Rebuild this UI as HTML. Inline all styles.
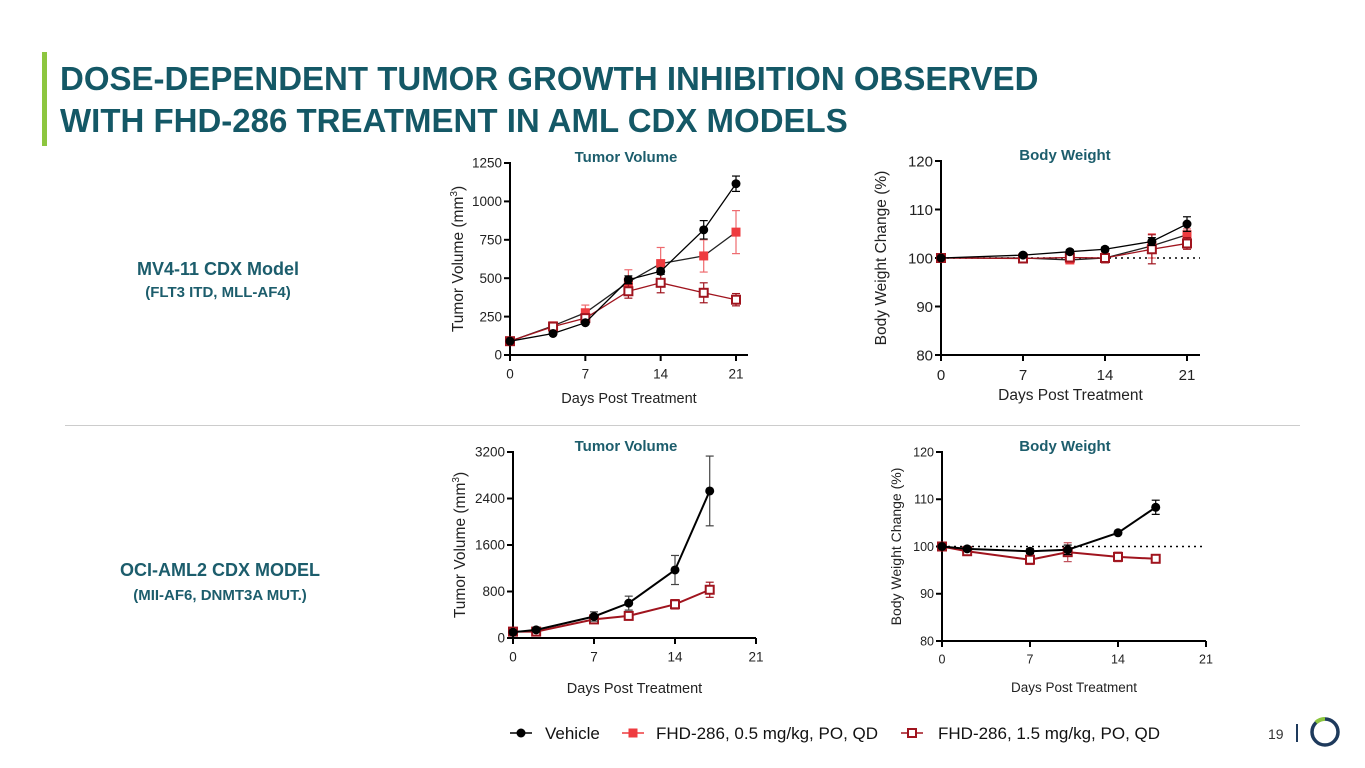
<!DOCTYPE html>
<html><head><meta charset="utf-8">
<style>
body{margin:0;width:1365px;height:768px;background:#fff;overflow:hidden;font-family:"Liberation Sans",sans-serif;position:relative}
.t{position:absolute;color:#1c5d6c;font-weight:bold}
</style></head><body>
<div style="position:absolute;left:42px;top:52px;width:5px;height:94px;background:#8dc63f"></div>
<div class="t" style="left:60px;top:58px;font-size:33px;line-height:42px;color:#145866;white-space:nowrap">DOSE-DEPENDENT TUMOR GROWTH INHIBITION OBSERVED<br>WITH FHD-286 TREATMENT IN AML CDX MODELS</div>
<div class="t" style="left:88px;width:260px;text-align:center;top:259px;font-size:18px">MV4-11 CDX Model</div>
<div class="t" style="left:88px;width:260px;text-align:center;top:284px;font-size:15px">(FLT3 ITD, MLL-AF4)</div>
<div class="t" style="left:90px;width:260px;text-align:center;top:560px;font-size:18px">OCI-AML2 CDX MODEL</div>
<div class="t" style="left:90px;width:260px;text-align:center;top:587px;font-size:15px">(MII-AF6, DNMT3A MUT.)</div>
<div style="position:absolute;left:65px;top:425px;width:1235px;height:1px;background:#ccc"></div>
<svg id="svg" width="1365" height="768" style="position:absolute;left:0;top:0"></svg>
<div style="position:absolute;left:1268px;top:726px;font-size:14px;color:#333">19</div>
<div style="position:absolute;left:1296px;top:724px;width:2px;height:18px;background:#1e3a5c"></div>
<svg width="40" height="40" style="position:absolute;left:1305px;top:713px">
<circle cx="20" cy="19" r="13" fill="none" stroke="#1e3a5c" stroke-width="3.5"/>
<path d="M 11 9.5 A 13 13 0 0 1 20 6" fill="none" stroke="#8dc63f" stroke-width="4"/>
</svg>
<script>
// ---- data ----
const tvDays1=[0,4,7,11,14,18,21];
const tvVeh1=[90,140,210,490,545,815,1115];
const tvVeh1Err=[10,10,10,25,20,60,50];
const tvLow1=[90,190,275,475,595,645,800];
const tvLow1Err=[20,15,50,80,105,105,140];
const tvHigh1=[90,185,240,415,470,405,360];
const tvHigh1Err=[15,15,20,45,65,65,40];
const tvTicks1=[0,250,500,750,1000,1250];

const bwDays1=[0,7,11,14,18,21];
const bwVeh1=[100,100.6,101.3,101.8,103.4,107];
const bwVeh1Err=[0.3,0.4,0.4,0.4,0.8,1.5];
const bwLow1=[100,100,99.6,100,102.5,104.8];
const bwLow1Err=[0.4,0.4,0.5,0.8,2.5,1.2];
const bwHigh1=[100,99.9,100.1,100,101.8,103];
const bwHigh1Err=[0.4,0.4,0.4,1.0,3.0,1.2];
const bwTicks=[80,90,100,110,120];

const tvDays2=[0,2,7,10,14,17];
const tvVeh2=[100,140,370,600,1170,2530];
const tvVeh2Err=[30,30,80,120,250,600];
const tvHigh2=[110,110,320,380,580,830];
const tvHigh2Err=[40,30,40,50,80,130];
const tvTicks2=[0,800,1600,2400,3200];

const bwDays2=[0,2,7,10,14,17];
const bwVeh2=[100,99.5,99,99.3,102.9,108.3];
const bwVeh2Err=[0.3,0.3,0.5,1,0.3,1.5];
const bwHigh2=[100,99,97.2,98.8,97.8,97.4];
const bwHigh2Err=[0.5,0.5,1,2,1,0.5];
const dayTicks=[0,7,14,21];

const NS='http://www.w3.org/2000/svg';
const svg=document.getElementById('svg');
function mk(tag,attrs,parent){const e=document.createElementNS(NS,tag);for(const k in attrs)e.setAttribute(k,attrs[k]);(parent||svg).appendChild(e);return e;}

function chart(c){
  const g=mk('g',{});
  
  
  const X=d=>c.x0+(d-0)/21*(c.x1-c.x0);
  const Y=v=>c.y0-(v-c.ymin)/(c.ymax-c.ymin)*(c.y0-c.y1);
  const fs=c.fs||12;
  const ya=mk('line',{x1:c.x0,y1:c.y0,x2:c.x0,y2:c.y1-1,stroke:'#000','stroke-width':2},g);
  
  const xa=mk('line',{x1:c.x0-1,y1:c.y0,x2:c.xend,y2:c.y0,stroke:'#000','stroke-width':2},g);
  
  c.yt.forEach(v=>{
    mk('line',{x1:c.x0-6,y1:Y(v),x2:c.x0,y2:Y(v),stroke:'#000','stroke-width':2},g);
    const t=mk('text',{x:c.x0-8,y:Y(v)+fs*0.35,'text-anchor':'end','font-size':fs,fill:'#222'},g);
    t.textContent=v;
  });
  dayTicks.forEach(d=>{
    mk('line',{x1:X(d),y1:c.y0,x2:X(d),y2:c.y0+6,stroke:'#000','stroke-width':2},g);
    const t=mk('text',{x:X(d),y:c.y0+10+fs,'text-anchor':'middle','font-size':fs,fill:'#222'},g);
    t.textContent=d;
  });
  const xl=mk('text',{x:(c.x0+c.xend)/2,y:c.xly,'text-anchor':'middle','font-size':c.xlfs||14.5,fill:'#222'},g);
  xl.textContent='Days Post Treatment';
  const yl=mk('text',{x:0,y:0,'text-anchor':'middle','font-size':c.ylfs||14.5,fill:'#222',transform:`translate(${c.ylx},${(c.y0+c.y1)/2}) rotate(-90)`},g);
  yl.innerHTML=c.ylab;
  const tt=mk('text',{x:c.tx,y:c.y1-1,'text-anchor':'middle','font-size':15,'font-weight':'bold',fill:'#1c5d6c'},g);
  tt.textContent=c.title;
  if(c.ref!==undefined){
    const r=mk('line',{x1:c.x0,y1:Y(c.ref),x2:c.xend,y2:Y(c.ref),stroke:'#000','stroke-width':1.6,'stroke-dasharray':'2,4'},g);
    
  }
  c.series.forEach(s=>{
    const sg=mk('g',{},g);
    
    const pts=s.d.map((d,i)=>X(d)+','+Y(s.v[i])).join(' ');
    mk('polyline',{points:pts,fill:'none',stroke:s.line,'stroke-width':c.lw||1.3},sg);
    s.d.forEach((d,i)=>{
      const x=X(d),yt=Y(s.v[i]+s.e[i]),yb=Y(s.v[i]-s.e[i]);
      mk('line',{x1:x,y1:yt,x2:x,y2:yb,stroke:s.ec,'stroke-width':1.2},sg);
      mk('line',{x1:x-4,y1:yt,x2:x+4,y2:yt,stroke:s.ec,'stroke-width':1.2},sg);
      mk('line',{x1:x-4,y1:yb,x2:x+4,y2:yb,stroke:s.ec,'stroke-width':1.2},sg);
    });
    s.d.forEach((d,i)=>{
      const x=X(d),y=Y(s.v[i]);let m;
      if(s.m==='c')m=mk('circle',{cx:x,cy:y,r:4.5,fill:'#000'},sg);
      else if(s.m==='fs')m=mk('rect',{x:x-4.5,y:y-4.5,width:9,height:9,fill:'#ee3b3f'},sg);
      else m=mk('rect',{x:x-4,y:y-4,width:8,height:8,fill:'#fff',stroke:'#a0141e','stroke-width':2},sg);
      
    });
  });
}
const VEH={name:'series-vehicle',line:'#000',ec:'#000',m:'c'};
const LOW={name:'series-0.5-mgkg',line:'#222',ec:'#ee6a6e',m:'fs'};
const HIGH={name:'series-1.5-mgkg',line:'#a0141e',ec:'#a0141e',m:'os'};
const ylTV='Tumor Volume (mm<tspan dy="-6" font-size="10">3</tspan><tspan dy="6">)</tspan>';
chart({name:'mv411-tumor-volume-chart',x0:510,x1:736,xend:748,y0:355,y1:163,ymin:0,ymax:1250,yt:tvTicks1,fs:13.5,xly:403,ylx:463,ylfs:15.5,ylab:ylTV,title:'Tumor Volume',tx:626,
 series:[Object.assign({},LOW,{d:tvDays1,v:tvLow1,e:tvLow1Err}),Object.assign({},HIGH,{d:tvDays1,v:tvHigh1,e:tvHigh1Err}),Object.assign({},VEH,{d:tvDays1,v:tvVeh1,e:tvVeh1Err})]});
chart({name:'mv411-body-weight-chart',x0:941,x1:1187,xend:1200,y0:355,y1:161,ymin:80,ymax:120,yt:bwTicks,fs:15,xly:400,xlfs:15.5,ylfs:15.5,ylx:886,ylab:'Body Weight Change (%)',title:'Body Weight',tx:1065,ref:100,
 series:[Object.assign({},LOW,{d:bwDays1,v:bwLow1,e:bwLow1Err}),Object.assign({},HIGH,{d:bwDays1,v:bwHigh1,e:bwHigh1Err}),Object.assign({},VEH,{d:bwDays1,v:bwVeh1,e:bwVeh1Err})]});
chart({name:'ociaml2-tumor-volume-chart',x0:513,x1:756,xend:756,y0:638,y1:452,ymin:0,ymax:3200,yt:tvTicks2,fs:13.5,lw:2,xly:693,ylx:465,ylfs:15.5,ylab:ylTV,title:'Tumor Volume',tx:626,
 series:[Object.assign({},HIGH,{d:tvDays2,v:tvHigh2,e:tvHigh2Err}),Object.assign({},VEH,{d:tvDays2,v:tvVeh2,e:tvVeh2Err,ec:'#444'})]});
chart({name:'ociaml2-body-weight-chart',x0:942,x1:1206,xend:1206,y0:641,y1:452,ymin:80,ymax:120,yt:bwTicks,fs:12.5,lw:2,xly:692,xlfs:13.5,ylfs:14,ylx:901,ylab:'Body Weight Change (%)',title:'Body Weight',tx:1065,ref:100,
 series:[Object.assign({},HIGH,{d:bwDays2,v:bwHigh2,e:bwHigh2Err,ec:'#c0505a'}),Object.assign({},VEH,{d:bwDays2,v:bwVeh2,e:bwVeh2Err})]});

// legend
const lg=mk('g',{});


const legItems=[{x:510,m:'c',t:'Vehicle',tx:545,c:'#000'},{x:622,m:'fs',t:'FHD-286, 0.5 mg/kg, PO, QD',tx:656,c:'#ee3b3f'},{x:901,m:'os',t:'FHD-286, 1.5 mg/kg, PO, QD',tx:938,c:'#a0141e'}];
legItems.forEach(it=>{
  const e=mk('g',{},lg);
  
  
  mk('line',{x1:it.x,y1:733,x2:it.x+22,y2:733,stroke:it.c,'stroke-width':1.5},e);
  const cx=it.x+11;
  if(it.m==='c')mk('circle',{cx:cx,cy:733,r:4.5,fill:'#000'},e);
  else if(it.m==='fs')mk('rect',{x:cx-4.5,y:728.5,width:9,height:9,fill:'#ee3b3f'},e);
  else mk('rect',{x:cx-4,y:729,width:8,height:8,fill:'#fff',stroke:'#a0141e','stroke-width':2},e);
  const t=mk('text',{x:it.tx,y:739,'font-size':17,fill:'#111'},e);t.textContent=it.t;
});
</script>
</body></html>
